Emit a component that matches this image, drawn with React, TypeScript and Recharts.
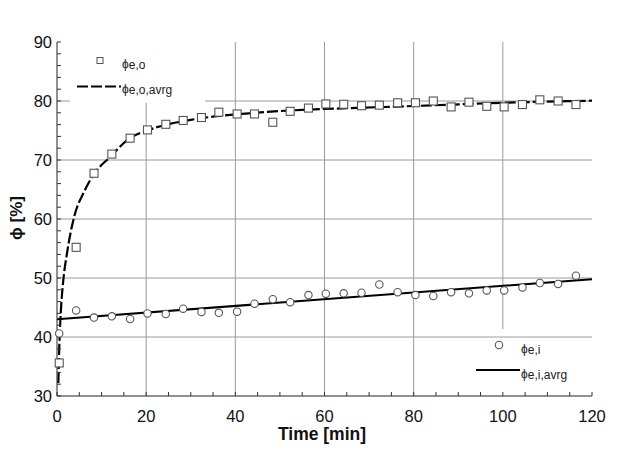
import React from "react";
import {
  ComposedChart,
  Line,
  Scatter,
  XAxis,
  YAxis,
  ReferenceLine,
  Customized,
} from "recharts";

// measurement times [min]
const times = [
  0.5, 4.3, 8.3, 12.3, 16.4, 20.3, 24.4, 28.3, 32.4, 36.3, 40.4, 44.3, 48.4, 52.3, 56.4,
  60.3, 64.3, 68.3, 72.3, 76.4, 80.4, 84.4, 88.4, 92.4, 96.4, 100.3, 104.4, 108.3, 112.4, 116.4,
];
// phi e,o (squares)
const phiEo = [
  35.6, 55.2, 67.75, 71.0, 73.7, 75.1, 76.05, 76.7, 77.2, 78.1, 77.8, 77.8, 76.4, 78.25, 78.8,
  79.5, 79.45, 79.2, 79.3, 79.7, 79.7, 80.0, 79.0, 79.8, 79.1, 79.0, 79.4, 80.2, 80.0, 79.4,
];
// phi e,i (circles)
const phiEi = [
  40.6, 44.5, 43.3, 43.5, 43.05, 44.0, 43.9, 44.8, 44.25, 44.1, 44.3, 45.65, 46.4, 45.9, 47.1,
  47.35, 47.4, 47.5, 48.9, 47.6, 47.1, 46.95, 47.6, 47.4, 47.9, 47.9, 48.4, 49.15, 49.0, 50.4,
];

// averaged fits
const fitEoT = [0.3, 0.5, 0.8, 1.4, 2.2, 3, 4, 6, 8, 12, 16, 21, 30, 43, 55, 66, 80, 100, 120];
const fitEoV = [32.2, 38, 43.5, 49.5, 54, 57.5, 60.8, 64.5, 67.3, 70.6, 73.5, 75.2, 76.8, 77.9, 78.5, 78.8, 79.15, 79.7, 80.05];
const fitEiT = [0, 120];
const fitEiV = [43.0, 49.8];

const xTicks = [0, 5, 10, 15, 20, 25, 30, 35, 40, 45, 50, 55, 60, 65, 70, 75, 80, 85, 90, 95, 100, 105, 110, 115, 120];
const yTicks = [30, 32, 34, 36, 38, 40, 42, 44, 46, 48, 50, 52, 54, 56, 58, 60, 62, 64, 66, 68, 70, 72, 74, 76, 78, 80, 82, 84, 86, 88, 90];

const squares = times.map((t, i) => ({ t, v: phiEo[i] }));
const circles = times.map((t, i) => ({ t, v: phiEi[i] }));
const fitEo = fitEoT.map((t, i) => ({ t, v: fitEoV[i] }));
const fitEi = fitEiT.map((t, i) => ({ t, v: fitEiV[i] }));

const FONT = "'Liberation Sans', Arial, sans-serif";
const GRID = "#9a9a9a";
const MARK = "#555";

const fmtX = (v: number) => (v % 20 === 0 ? String(v) : "");
const fmtY = (v: number) => (v % 10 === 0 ? String(v) : "");
const blank = () => "";

const Square = (p: any) => (
  <rect x={p.cx - 4} y={p.cy - 4} width={8} height={8} fill="#fff" stroke={MARK} strokeWidth={1.1} />
);
const Ring = (p: any) => <circle cx={p.cx} cy={p.cy} r={3.7} fill="#fff" stroke={MARK} strokeWidth={1.1} />;

function Sym({ x, y, sub }: { x: number; y: number; sub: string }) {
  return (
    <text x={x} y={y} fontFamily={FONT} fontSize={12} fill="#222">
      ϕ<tspan dy={1}>{sub}</tspan>
    </text>
  );
}

function Overlay() {
  return (
    <g>
      {/* top-left legend */}
      <rect x={97} y={57.5} width={6} height={6} fill="#fff" stroke={MARK} strokeWidth={1} />
      <Sym x={122} y={68} sub="e,o" />
      <line x1={77} y1={86.5} x2={121} y2={86.5} stroke="#000" strokeWidth={2.2} strokeDasharray="11 3" />
      <Sym x={122} y={93} sub="e,o,avrg" />
      {/* bottom-right legend */}
      <circle cx={499} cy={345} r={3.7} fill="#fff" stroke={MARK} strokeWidth={1.1} />
      <Sym x={521} y={353} sub="e,i" />
      <line x1={476} y1={370} x2={520} y2={370} stroke="#000" strokeWidth={2} />
      <Sym x={521} y={378} sub="e,i,avrg" />
      {/* axis titles */}
      <text x={322} y={440} textAnchor="middle" fontFamily={FONT} fontSize={17.5} fontWeight="bold" fill="#111">
        Time [min]
      </text>
      <text
        x={0}
        y={0}
        transform="translate(22 218) rotate(-90)"
        textAnchor="middle"
        fontFamily={FONT}
        fontSize={17}
        fontWeight="bold"
        fill="#111"
      >
        ϕ [%]
      </text>
    </g>
  );
}

const tickStyle = { fontFamily: FONT, fontSize: 16.5, fill: "#111" };

export default function App() {
  return (
    <div style={{ position: "absolute", left: 0, top: 0, background: "#fff" }}>
      <ComposedChart width={640} height={454} margin={{ top: 42, right: 48, left: 0, bottom: 0 }}>
        <XAxis
          xAxisId={0}
          dataKey="t"
          type="number"
          domain={[0, 120]}
          ticks={xTicks}
          interval={0}
          tickFormatter={fmtX}
          tickSize={-4}
          tickMargin={18}
          height={58}
          tick={tickStyle}
          axisLine={{ stroke: "#222" }}
          tickLine={{ stroke: "#333" }}
        />
        <XAxis
          xAxisId="top"
          orientation="top"
          type="number"
          domain={[0, 120]}
          ticks={xTicks}
          interval={0}
          tickFormatter={blank}
          tickSize={-4}
          height={0}
          axisLine={{ stroke: "#222" }}
          tickLine={{ stroke: "#333" }}
        />
        <YAxis
          yAxisId={0}
          dataKey="v"
          type="number"
          domain={[30, 90]}
          ticks={yTicks}
          interval={0}
          tickFormatter={fmtY}
          tickSize={-4}
          tickMargin={9}
          width={57}
          tick={tickStyle}
          axisLine={{ stroke: "#222" }}
          tickLine={{ stroke: "#333" }}
        />
        <YAxis
          yAxisId="right"
          orientation="right"
          type="number"
          domain={[30, 90]}
          ticks={yTicks}
          interval={0}
          tickFormatter={blank}
          tickSize={-4}
          width={0}
          axisLine={{ stroke: "#222" }}
          tickLine={{ stroke: "#333" }}
        />

        {/* grid (partly hidden behind the legend boxes) */}
        <ReferenceLine y={40} segment={[{ x: 0, y: 40 }, { x: 87.6, y: 40 }]} stroke={GRID} />
        <ReferenceLine y={50} stroke={GRID} />
        <ReferenceLine y={60} stroke={GRID} />
        <ReferenceLine y={70} stroke={GRID} />
        <ReferenceLine segment={[{ x: 0, y: 80 }, { x: 2.9, y: 80 }]} stroke={GRID} />
        <ReferenceLine segment={[{ x: 33.2, y: 80 }, { x: 120, y: 80 }]} stroke={GRID} />
        <ReferenceLine segment={[{ x: 20, y: 30 }, { x: 20, y: 79.7 }]} stroke={GRID} />
        <ReferenceLine x={40} stroke={GRID} />
        <ReferenceLine x={60} stroke={GRID} />
        <ReferenceLine x={80} stroke={GRID} />
        <ReferenceLine segment={[{ x: 100, y: 41.3 }, { x: 100, y: 90 }]} stroke={GRID} />

        <Line
          data={fitEo}
          dataKey="v"
          type="monotone"
          stroke="#000"
          strokeWidth={2.2}
          strokeDasharray="11 3"
          dot={false}
          isAnimationActive={false}
        />
        <Line
          data={fitEi}
          dataKey="v"
          type="linear"
          stroke="#000"
          strokeWidth={2}
          dot={false}
          isAnimationActive={false}
        />
        <Scatter data={squares} dataKey="v" shape={Square} isAnimationActive={false} />
        <Scatter data={circles} dataKey="v" shape={Ring} isAnimationActive={false} />

        <Customized component={Overlay} />
      </ComposedChart>
    </div>
  );
}
